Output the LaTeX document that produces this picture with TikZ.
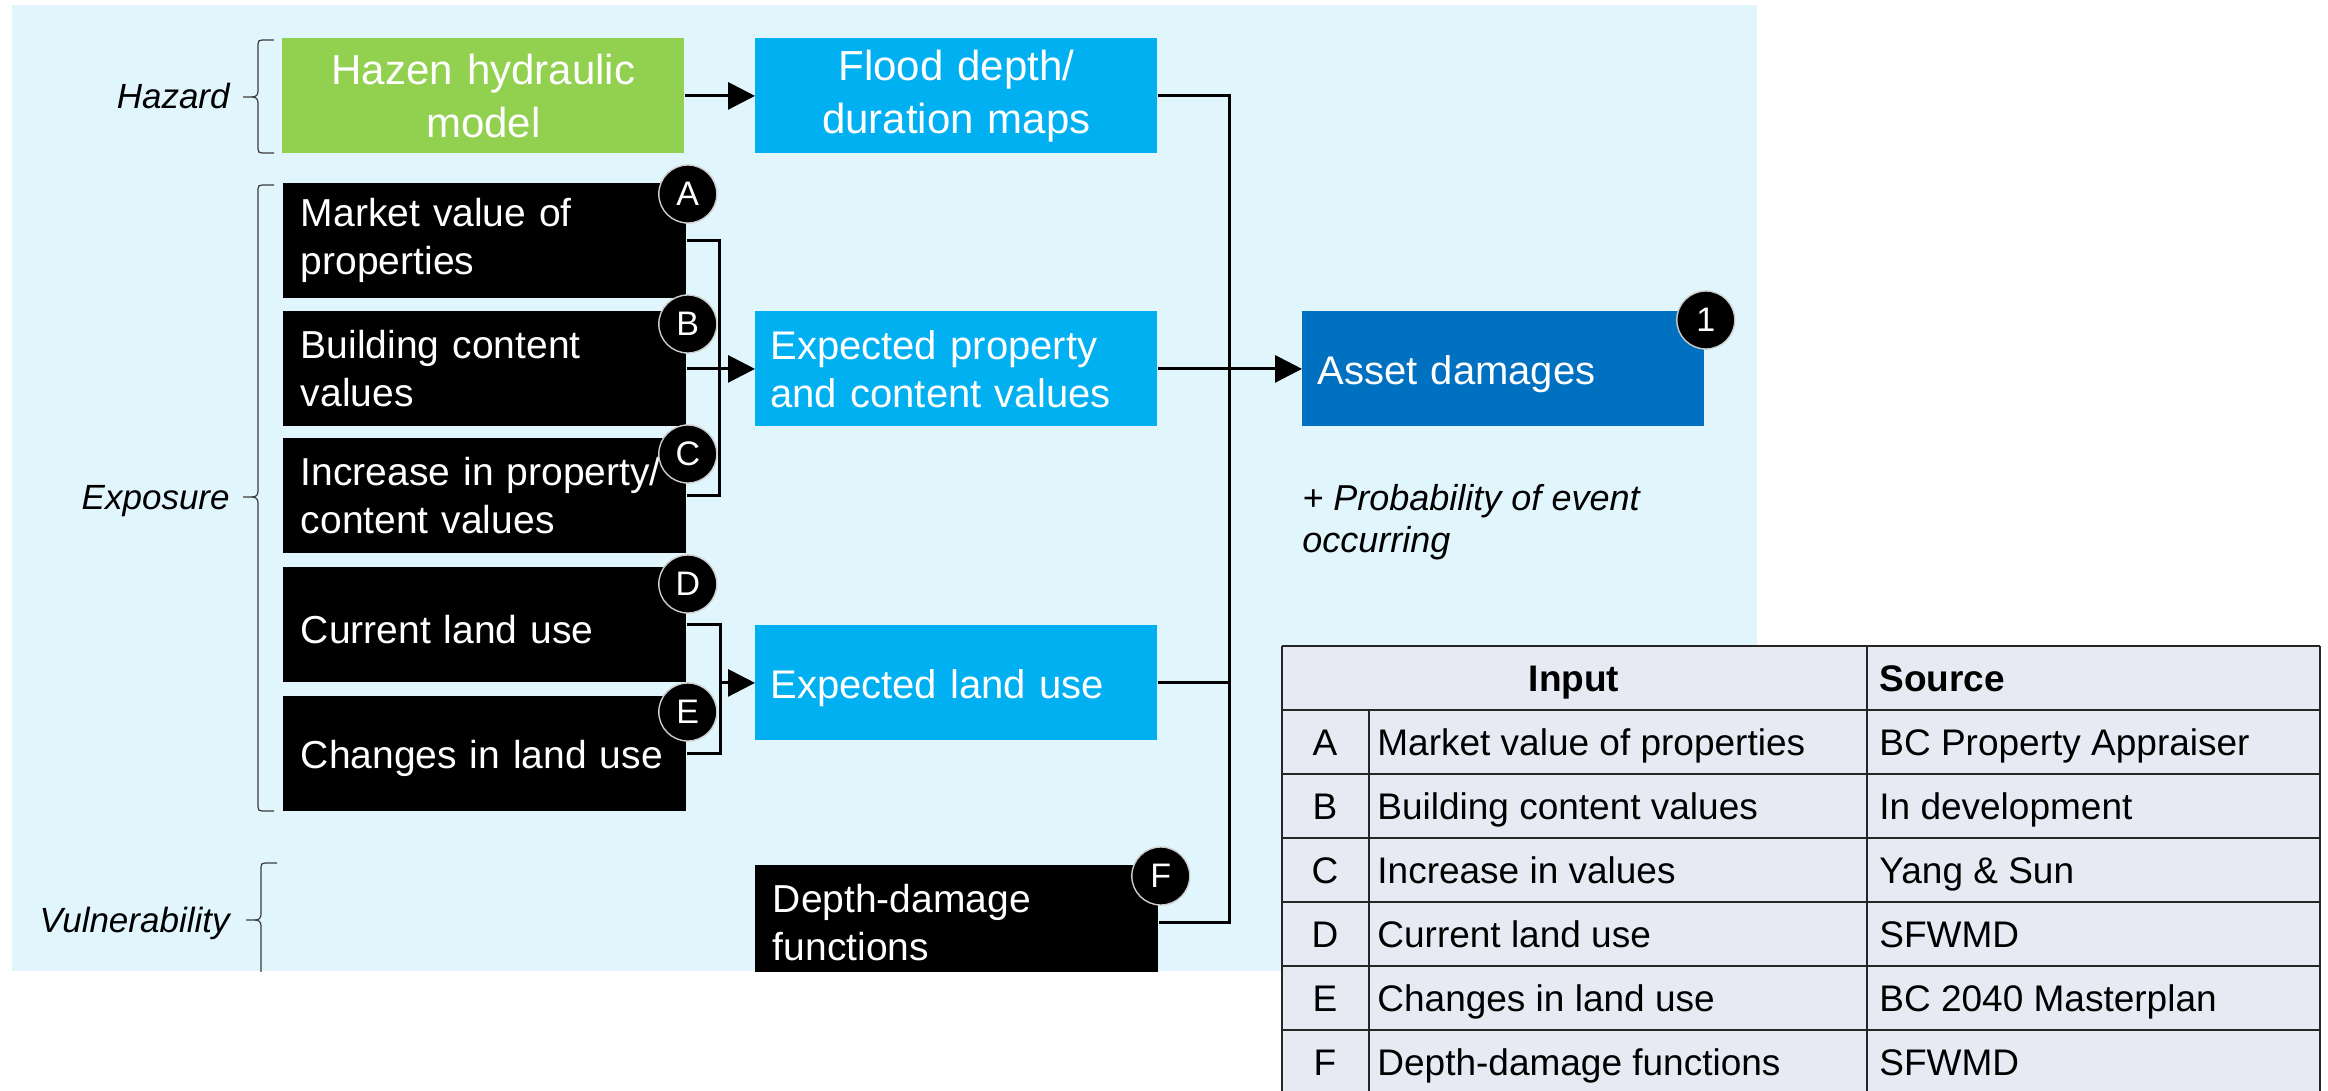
\documentclass[tikz,border=0pt]{standalone}
\usepackage{fontspec}
\setmainfont{Liberation Sans}
\usetikzlibrary{arrows.meta,calc}

\definecolor{panelbg}{RGB}{225,245,253}
\definecolor{hazgreen}{RGB}{146,208,80}
\definecolor{skyblue}{RGB}{0,176,240}
\definecolor{deepblue}{RGB}{0,112,192}
\definecolor{tablebg}{RGB}{231,234,243}
\definecolor{braceink}{RGB}{60,60,60}

% left curly brace: spine x, top y, tip y, bottom y (pixel units, y downwards)
\newcommand{\groupbrace}[4]{%
  \draw[bracestyle] (#1+16,#2) -- (#1+4,#2) .. controls (#1+1,#2) and (#1,#2+1) .. (#1,#2+4)
        -- (#1,#3-6) .. controls (#1,#3-2) and (#1-2,#3) .. (#1-6,#3) -- (#1-15,#3);
  \draw[bracestyle] (#1+16,#4) -- (#1+4,#4) .. controls (#1+1,#4) and (#1,#4-1) .. (#1,#4-4)
        -- (#1,#3+6) .. controls (#1,#3+2) and (#1-2,#3) .. (#1-6,#3);
}
% single-line box labels sit slightly below the box centre
\newcommand{\sunk}[1]{\raisebox{-2.5pt}[\height][\depth]{#1}}

\begin{document}
\begin{tikzpicture}[x=0.5pt,y=-0.5pt,
  box/.style={rectangle, inner ysep=0pt, minimum height=57.5pt, text=white, anchor=north west},
  inputbox/.style={box, fill=black, text width=184pt, inner xsep=8.75pt, align=left,
                   font=\fontsize{19.5}{24}\selectfont},
  midbox/.style={box, fill=skyblue, text width=186pt, inner xsep=7.5pt, align=left,
                 font=\fontsize{20}{24}\selectfont},
  topbox/.style={box, text width=186pt, inner xsep=7.5pt, align=center,
                 font=\fontsize{21}{26.5}\selectfont},
  assetbox/.style={midbox, fill=deepblue},
  marker/.style={circle, fill=black, draw=white!80!black, line width=0.7pt, text=white,
                 minimum size=29pt, inner sep=0pt, font=\fontsize{17}{17}\selectfont},
  grouplabel/.style={anchor=base east, inner sep=0pt, font=\fontsize{17.5}{21}\selectfont\itshape},
  link/.style={line width=1.5pt, draw=black},
  arrowlink/.style={link, -{Triangle[length=13.5pt,width=13.5pt]}},
  bracestyle/.style={draw=braceink, line width=0.6pt},
  cell/.style={inner sep=0pt, font=\fontsize{18.5}{22}\selectfont},
  headcell/.style={cell, font=\fontsize{18.5}{22}\selectfont\bfseries},
  grid/.style={draw=black!85, line width=1pt}
]
\useasboundingbox (0,0) rectangle (2328,1091);
\fill[white] (0,0) rectangle (2328,1091);

\begin{scope}
  \clip (0,0) rectangle (2328,971);
  \fill[panelbg] (12,5) rectangle (1757,971);

  % boxes
  \node[topbox, fill=hazgreen] (hazen) at (282,38) {Hazen hydraulic\\model};
  \node[topbox, fill=skyblue] (flood) at (755,38) {Flood depth/\\duration maps};

  \node[inputbox] (mkt) at (283,183) {Market value of\\properties};
  \node[inputbox] (bcv) at (283,311) {Building content\\values};
  \node[inputbox] (inc) at (283,438) {Increase in property/\\content values};
  \node[inputbox] (cur) at (283,567) {\sunk{Current land use}};
  \node[inputbox] (chg) at (283,696) {\sunk{Changes in land use}};

  \node[midbox] (prop) at (755,311) {Expected property\\and content values};
  \node[midbox] (land) at (755,625) {\sunk{Expected land use}};
  \node[inputbox] (ddf) at (755,865) {Depth-damage\\functions};

  \node[assetbox] (asset) at (1302,311) {\sunk{Asset damages}};

  \node[anchor=west, inner sep=0pt, align=left, font=\fontsize{18}{21}\selectfont\itshape]
    (prob) at (1302,522) {+ Probability of event\\occurring};

  % connectors
  \coordinate (bus) at (1229,0);
  \coordinate (abc) at (719,0);
  \coordinate (de) at (720,0);

  \draw[arrowlink] (hazen.east) -- (flood.west);
  \draw[link] (flood.east) -| (bus |- ddf.east) -- (ddf.east);
  \draw[link] (land.east) -- (bus |- land.east);
  \draw[arrowlink] (prop.east) -- (asset.west);

  \draw[link] (mkt.east) -| (abc |- inc.east) -- (inc.east);
  \draw[arrowlink] (bcv.east) -- (prop.west);

  \draw[link] (cur.east) -| (de |- chg.east) -- (chg.east);
  \draw[arrowlink] (de |- land.west) -- (land.west);

  % markers
  \node[marker] (mA) at ($(mkt.north east)+(1,11)$) {A};
  \node[marker] (mB) at ($(bcv.north east)+(1,13)$) {B};
  \node[marker] (mC) at ($(inc.north east)+(1,16)$) {C};
  \node[marker] (mD) at ($(cur.north east)+(1,17)$) {D};
  \node[marker] (mE) at ($(chg.north east)+(1,16)$) {E};
  \node[marker] (mF) at ($(ddf.north east)+(2,11)$) {F};
  \node[marker] (m1) at ($(asset.north east)+(1,9)$) {1};

  % group braces and labels
  \groupbrace{258}{40}{97}{153}
  \groupbrace{258}{185}{497}{811}
  \groupbrace{261}{863}{920}{977}
  \node[grouplabel] (lhaz) at (230,109) {Hazard};
  \node[grouplabel] (lexp) at (230,509) {Exposure};
  \node[grouplabel] (lvul) at (230,932) {Vulnerability};
\end{scope}

% source table
\fill[tablebg] (1282,646) rectangle (2320,1095);
\foreach \yy in {646,710,774,838,902,966,1030}
  \draw[grid] (1282,\yy) -- (2320,\yy);
\draw[grid] (1282,646) -- (1282,1095);
\draw[grid] (2320,646) -- (2320,1095);
\draw[grid] (1867,646) -- (1867,1095);
\draw[grid] (1369,710) -- (1369,1095);

\node[headcell, anchor=base] (hin) at (1574,691) {Input};
\node[headcell, anchor=base west] (hsrc) at (1879,691) {Source};

\foreach \k/\inp/\src [count=\i] in {%
    A/Market value of properties/BC Property Appraiser,
    B/Building content values/In development,
    C/Increase in values/Yang \& Sun,
    D/Current land use/SFWMD,
    E/Changes in land use/BC 2040 Masterplan,
    F/Depth-damage functions/SFWMD}
{
  \node[cell, anchor=base] (key\i) at (1325,691+64*\i) {\k};
  \node[cell, anchor=base west] (inp\i) at (1377,691+64*\i) {\inp};
  \node[cell, anchor=base west] (src\i) at (1879,691+64*\i) {\src};
}
\end{tikzpicture}
\end{document}
